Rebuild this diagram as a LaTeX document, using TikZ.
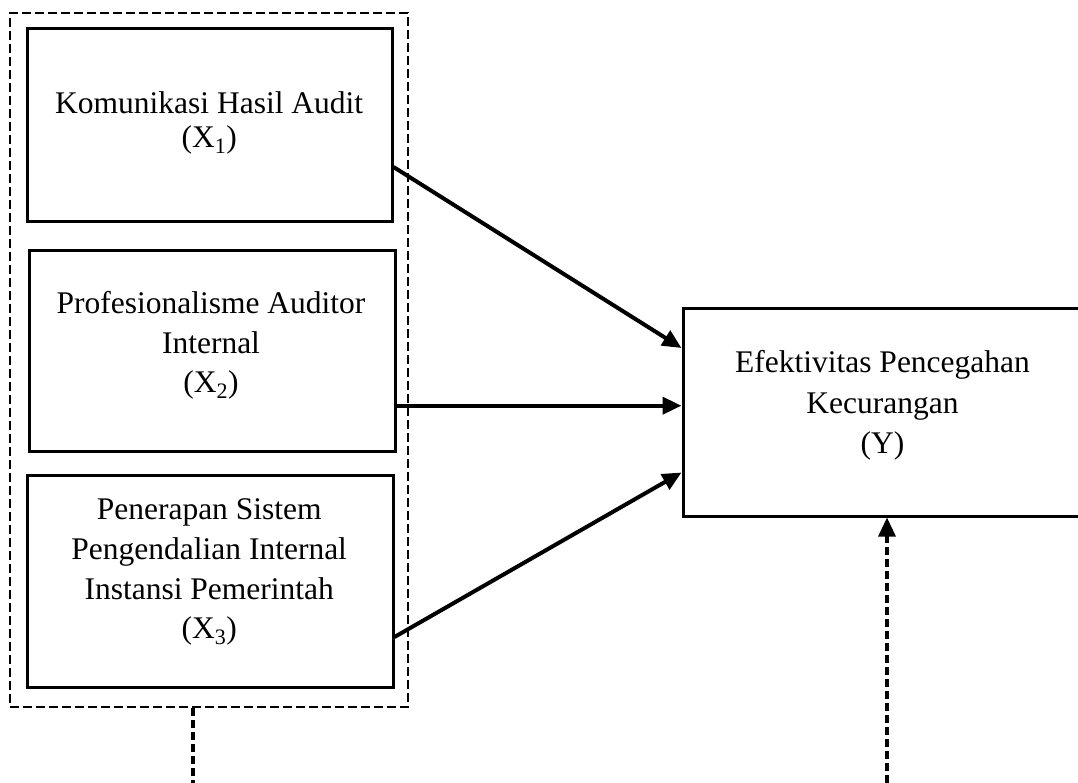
\documentclass[tikz,border=0pt]{standalone}
\usepackage{fontspec}
\setmainfont{Liberation Serif}
\usetikzlibrary{arrows.meta,positioning}

\begin{document}
\begin{tikzpicture}[
        x=1pt, y=-1pt,
        kotak/.style={rectangle, draw, line width=3pt, inner sep=0pt},
        kelompok/.style={rectangle, draw, line width=2.4pt, dash pattern=on 9pt off 4pt, inner sep=0pt},
        teks/.style={align=center, inner sep=0pt, anchor=north, font=\fontsize{31.5}{39.7}\selectfont},
        panah/.style={line width=4pt, -{Triangle[length=19pt, width=17pt]}},
        putus/.style={line width=3.2pt, dash pattern=on 8pt off 4pt}
    ]
        \clip (0,0) rectangle (1078,783);

        % Kotak variabel bebas
        \node [kelompok, minimum width=398pt, minimum height=694pt] (grup) at (209,360) {};
        \node [kotak, minimum width=365pt, minimum height=193pt] (x1) at (209.5,125.5) {};
        \node [kotak, minimum width=366pt, minimum height=201pt] (x2) at (212,351.4) {};
        \node [kotak, minimum width=366pt, minimum height=212pt] (x3) at (210,581) {};
        \node [kotak, minimum width=400pt, minimum height=207pt] (y) at (883,412.5) {};

        % Teks di dalam kotak
        \node [teks, font=\fontsize{31.5}{34}\selectfont] (t1) at (209.2,91.5) {Komunikasi Hasil Audit\\(X\textsubscript{1})};
        \node [teks] (t2) at (211,291.1) {Profesionalisme Auditor\\Internal\\(X\textsubscript{2})};
        \node [teks] (t3) at (209.2,498.8) {Penerapan Sistem\\Pengendalian Internal\\Instansi Pemerintah\\(X\textsubscript{3})};
        \node [teks, font=\fontsize{31.5}{40.5}\selectfont] (ty) at (882.5,350.5) {Efektivitas Pencegahan\\Kecurangan\\(Y)};

        % Ujung bebas garis putus-putus
        \coordinate (bawahkiri) at (193,783);
        \coordinate (bawahkanan) at (887,783);

        % Panah pengaruh
        \draw[panah] ([yshift=-41.5pt]x1.east) -- ([yshift=64.5pt]y.west);
        \draw[panah] ([yshift=-54.3pt, xshift=-3pt]x2.east) -- ([yshift=6.8pt]y.west);
        \draw[panah] ([yshift=-56pt]x3.east) -- ([yshift=-60pt]y.west);
        \draw[putus] ([xshift=-16pt]grup.south) -- (bawahkiri);
        \draw[panah, putus] (bawahkanan) -- ([xshift=4pt]y.south);
    \end{tikzpicture}
\end{document}
